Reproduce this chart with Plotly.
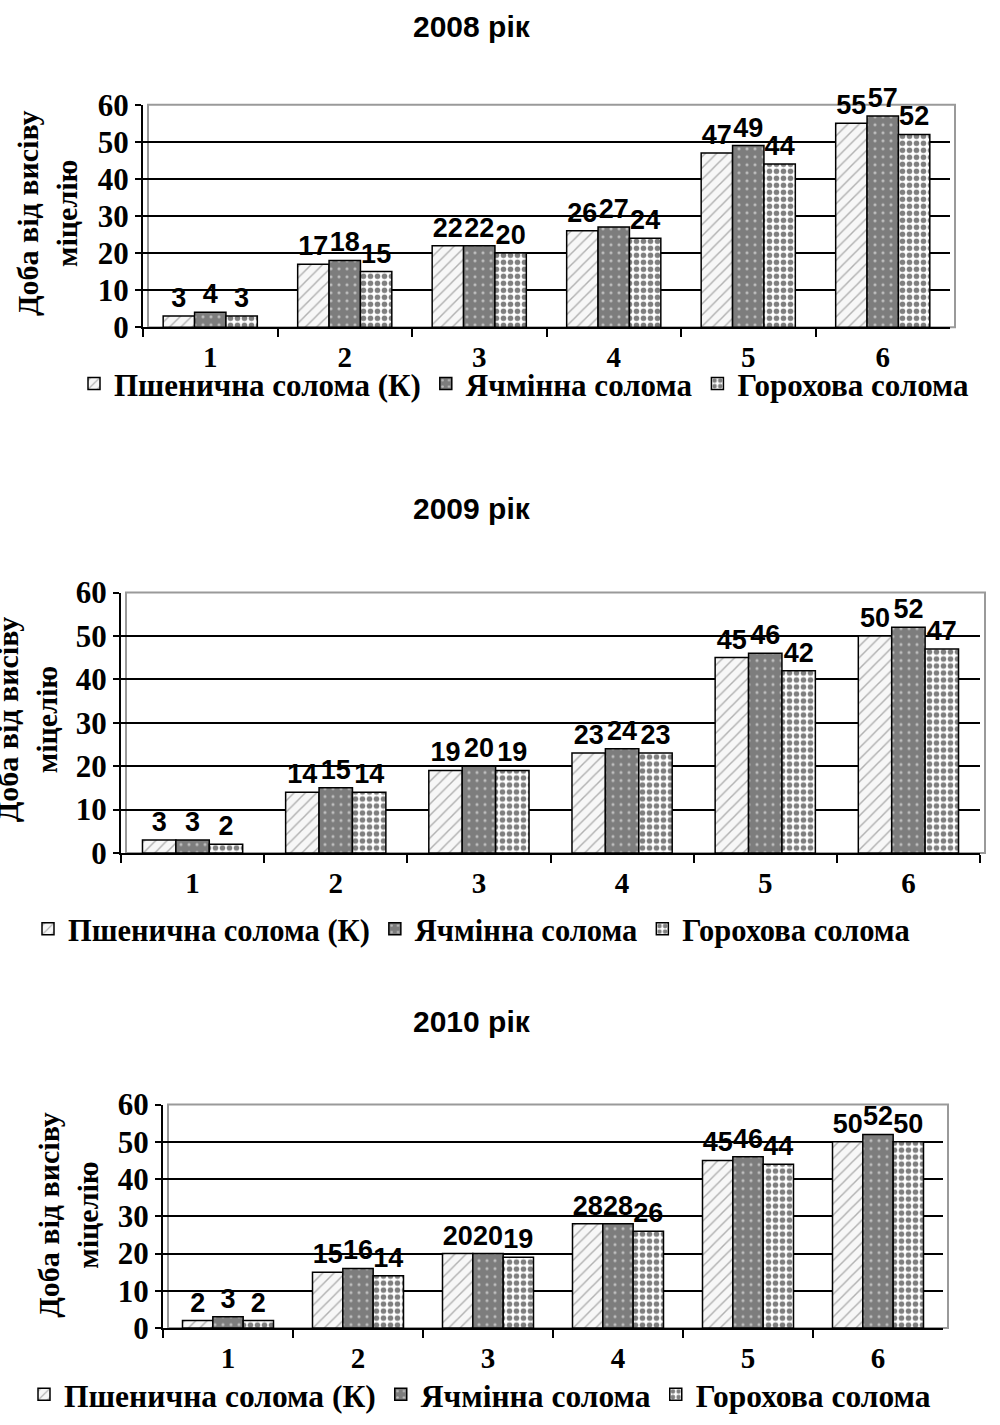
import plotly.graph_objects as go

# Days from sowing to mycelium stages, three straw substrates, three seasons
stages = ["1", "2", "3", "4", "5", "6"]
series_names = ["Пшенична солома (К)", "Ячмінна солома", "Горохова солома"]
years = ["2008 рік", "2009 рік", "2010 рік"]

wheat_2008 = [3, 17, 22, 26, 47, 55]
barley_2008 = [4, 18, 22, 27, 49, 57]
pea_2008 = [3, 15, 20, 24, 44, 52]

wheat_2009 = [3, 14, 19, 23, 45, 50]
barley_2009 = [3, 15, 20, 24, 46, 52]
pea_2009 = [2, 14, 19, 23, 42, 47]

wheat_2010 = [2, 15, 20, 28, 45, 50]
barley_2010 = [3, 16, 20, 28, 46, 52]
pea_2010 = [2, 14, 19, 26, 44, 50]

y_ticks = [0, 10, 20, 30, 40, 50, 60]
y_title = "Доба від висіву<br>міцелію"

yearly = [
    [wheat_2008, barley_2008, pea_2008],
    [wheat_2009, barley_2009, pea_2009],
    [wheat_2010, barley_2010, pea_2010],
]

W, H = 1000, 1425


def px_x(v):
    return v / W


def px_y(v):
    return 1 - v / H


# plot areas in pixels: (left, right, top, bottom)
areas = [(143, 950, 90, 318), (121, 980, 590, 857), (163, 943, 1115, 1344)]
title_y = [10, 504, 1030]
ytitle_pos = [(47, 201), (27, 720), (68, 1228)]
legend_pos = [(0.074, 376, 31), (0.028, 935, 30.5), (0.024, 1412, 31.5)]

styles = [
    dict(color="#f5f5f5", pattern=dict(shape="/", fgcolor="#6a6a6a", bgcolor="#f7f7f7",
                                       size=8, solidity=0.18)),
    dict(color="#7d7d7d", pattern=dict(shape=".", fgcolor="#ffffff", bgcolor="#7d7d7d",
                                       size=8, solidity=0.12)),
    dict(color="#ffffff", pattern=dict(shape=".", fgcolor="#000000", bgcolor="#ffffff",
                                       size=7, solidity=0.5)),
]

serif = "Liberation Serif, Times New Roman, serif"
sans = "Liberation Sans, Arial, sans-serif"

fig = go.Figure()
layout = dict(
    width=W, height=H, autosize=False,
    margin=dict(l=0, r=0, t=0, b=0),
    paper_bgcolor="white", plot_bgcolor="white",
    barmode="group", bargap=0.3, bargroupgap=0.0,
    annotations=[], shapes=[],
)

for i, (data, year) in enumerate(zip(yearly, years)):
    sfx = "" if i == 0 else str(i + 1)
    xa, ya = "x" + sfx, "y" + sfx
    legend_id = "legend" + sfx
    for name, vals, st in zip(series_names, data, styles):
        fig.add_trace(go.Bar(
            x=stages, y=vals, name=name,
            xaxis=xa, yaxis=ya, legend=legend_id,
            marker=dict(color=st["color"], pattern=st["pattern"],
                        line=dict(color="black", width=1.5)),
            texttemplate="%{y}", textposition="outside",
            textfont=dict(family=sans, size=27, color="black", weight="bold"),
            constraintext="none", cliponaxis=False,
        ))
    l, r, t, b = areas[i]
    layout["xaxis" + sfx] = dict(
        domain=[px_x(l), px_x(r)], anchor=ya,
        type="category", tickson="boundaries",
        ticks="outside", ticklen=8, tickwidth=2, tickcolor="black",
        showline=True, linecolor="black", linewidth=2,
        showgrid=False, fixedrange=True,
        tickfont=dict(family=serif, size=29, color="black", weight="bold"),
        ticklabelstandoff=3,
    )
    layout["yaxis" + sfx] = dict(
        domain=[px_y(b), px_y(t)], anchor=xa,
        range=[0, 60], tickvals=y_ticks,
        ticks="outside", ticklen=6, tickwidth=2, tickcolor="black",
        showline=True, linecolor="black", linewidth=2,
        showgrid=True, gridcolor="black", gridwidth=1.5,
        zeroline=False, fixedrange=True,
        tickfont=dict(family=serif, size=31, color="black", weight="bold"),
    )
    # grey plot-area frame
    layout["shapes"].append(dict(
        type="rect", xref="paper", yref="paper",
        x0=px_x(l + 5), x1=px_x(r + 5), y0=px_y(b), y1=px_y(t),
        line=dict(color="#9a9a9a", width=2), layer="below",
    ))
    layout["annotations"].append(dict(
        text="<b>%s</b>" % year, xref="paper", yref="paper",
        x=px_x(472), y=px_y(title_y[i]), xanchor="center", yanchor="middle",
        showarrow=False, font=dict(family=sans, size=30, color="black"),
    ))
    tx, ty = ytitle_pos[i]
    layout["annotations"].append(dict(
        text="<b>%s</b>" % y_title, xref="paper", yref="paper",
        x=px_x(tx), y=px_y(ty), xanchor="center", yanchor="middle",
        textangle=-90, showarrow=False,
        font=dict(family=serif, size=30, color="black"),
    ))
    lx, ly, lsize = legend_pos[i]
    layout[legend_id] = dict(
        orientation="h", x=lx, y=px_y(ly), xanchor="left", yanchor="middle",
        font=dict(family=serif, size=lsize, color="black", weight="bold"),
        bgcolor="rgba(0,0,0,0)", itemwidth=30, tracegroupgap=0,
    )

fig.update_layout(**layout)
fig.write_html("out.html")
